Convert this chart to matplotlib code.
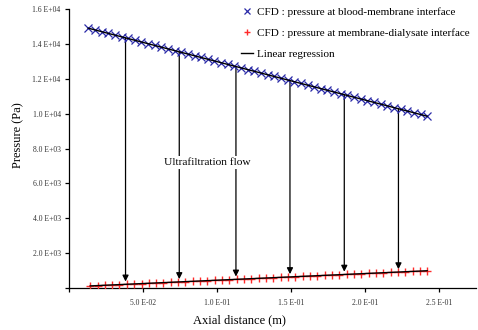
import matplotlib
matplotlib.use("Agg")
import matplotlib.pyplot as plt
import numpy as np

plt.rcParams['font.family'] = ['Liberation Serif', 'DejaVu Serif']

# CFD: pressure at blood-membrane interface
x_blood = [0.0130, 0.0175, 0.0220, 0.0265, 0.0310, 0.0355, 0.0399, 0.0444, 0.0489, 0.0534,
           0.0579, 0.0624, 0.0669, 0.0714, 0.0759, 0.0804, 0.0848, 0.0893, 0.0938, 0.0983,
           0.1028, 0.1073, 0.1118, 0.1163, 0.1208, 0.1253, 0.1297, 0.1342, 0.1387, 0.1432,
           0.1477, 0.1522, 0.1567, 0.1612, 0.1657, 0.1702, 0.1746, 0.1791, 0.1836, 0.1881,
           0.1926, 0.1971, 0.2016, 0.2061, 0.2106, 0.2151, 0.2195, 0.2240, 0.2285, 0.2330,
           0.2375, 0.2420]
p_blood = [14900, 14800, 14700, 14600, 14500, 14410, 14310, 14210, 14110, 14010,
           13910, 13810, 13710, 13610, 13510, 13420, 13320, 13220, 13120, 13020,
           12920, 12820, 12720, 12620, 12520, 12430, 12330, 12230, 12130, 12030,
           11930, 11830, 11730, 11630, 11530, 11440, 11340, 11240, 11140, 11040,
           10940, 10840, 10740, 10640, 10540, 10450, 10350, 10250, 10150, 10050,
           9950, 9850]

# CFD: pressure at membrane-dialysate interface
x_dial = [0.0143, 0.0193, 0.0242, 0.0292, 0.0341, 0.0391, 0.0440, 0.0490, 0.0539, 0.0589,
          0.0638, 0.0688, 0.0737, 0.0787, 0.0836, 0.0886, 0.0935, 0.0985, 0.1034, 0.1084,
          0.1133, 0.1183, 0.1232, 0.1282, 0.1331, 0.1381, 0.1430, 0.1480, 0.1529, 0.1579,
          0.1628, 0.1678, 0.1727, 0.1777, 0.1826, 0.1876, 0.1925, 0.1975, 0.2024, 0.2074,
          0.2123, 0.2173, 0.2222, 0.2272, 0.2321, 0.2371, 0.2420]
p_dial = [120, 139, 158, 177, 196, 215, 233, 252, 271, 290,
          309, 328, 347, 366, 385, 404, 422, 441, 460, 479,
          498, 517, 536, 555, 574, 593, 611, 630, 649, 668,
          687, 706, 725, 744, 763, 782, 800, 819, 838, 857,
          876, 895, 914, 933, 952, 971, 990]

# Ultrafiltration flow arrow positions
x_arrows = [0.0382, 0.0745, 0.1128, 0.1493, 0.1860, 0.2226]

yticks = [0, 2000, 4000, 6000, 8000, 10000, 12000, 14000, 16000]
ytick_labels = ['', '2.0 E+03', '4.0 E+03', '6.0 E+03', '8.0 E+03', '1.0 E+04',
                '1.2 E+04', '1.4 E+04', '1.6 E+04']
xticks = [0, 0.05, 0.10, 0.15, 0.20, 0.25]
xtick_labels = ['', '5.0 E-02', '1.0 E-01', '1.5 E-01', '2.0 E-01', '2.5 E-01']

W, H = 478, 330
fig = plt.figure(figsize=(W / 100, H / 100), dpi=100)
ax = fig.add_axes([69 / W, 1 - 288 / H, (476 - 69) / W, (288 - 9) / H])

xb = np.array(x_blood); pb = np.array(p_blood)
xd = np.array(x_dial); pd_ = np.array(p_dial)
cb = np.polyfit(xb, pb, 1)
cd = np.polyfit(xd, pd_, 1)

h1, = ax.plot(xb, pb, linestyle='none', marker='x', color='#2a2aa8', markersize=5.5,
              markeredgewidth=0.9, zorder=3,
              label='CFD : pressure at blood-membrane interface')
h2, = ax.plot(xd, pd_, linestyle='none', marker='+', color='#ff2a2a', markersize=6,
              markeredgewidth=1.0, zorder=3,
              label='CFD : pressure at membrane-dialysate interface')
h3, = ax.plot(xb, np.polyval(cb, xb), color='black', lw=1.0, zorder=4,
              label='Linear regression')
ax.plot(xd, np.polyval(cd, xd), color='black', lw=1.0, zorder=4)

for xa in x_arrows:
    ytop = np.polyval(cb, xa)
    ybot = np.polyval(cd, xa)
    ax.annotate('', xy=(xa, ybot), xytext=(xa, ytop),
                arrowprops=dict(arrowstyle='-|>', color='black', lw=0.9,
                                mutation_scale=9, shrinkA=0, shrinkB=2),
                zorder=2)

ax.text(0.0935, 7220, 'Ultrafiltration flow', fontsize=8.2, ha='center', va='center',
        bbox=dict(facecolor='white', edgecolor='none', pad=1.5), zorder=5)

ax.set_xlim(0, 0.275)
ax.set_ylim(0, 16000)
ax.set_yticks(yticks)
ax.set_yticklabels(ytick_labels)
ax.set_xticks(xticks)
ax.set_xticklabels(xtick_labels)
ax.tick_params(axis='both', labelsize=5.5, labelcolor='#333333', length=3, width=0.9,
               direction='out')
ax.tick_params(axis='x', pad=5)
ax.tick_params(axis='y', pad=3)
for s in ['top', 'right']:
    ax.spines[s].set_visible(False)
for s in ['left', 'bottom']:
    ax.spines[s].set_linewidth(0.9)

fig.text(18 / W, 1 - 135.5 / H, 'Pressure (Pa)', rotation=90, ha='center', va='center',
         fontsize=9)
fig.text(239 / W, 1 - 320 / H, 'Axial distance (m)', ha='center', va='center', fontsize=9)

fig.legend(handles=[h1, h2, h3], loc='upper left', bbox_to_anchor=(241 / W, 1 - 7 / H),
           frameon=False, fontsize=8, borderpad=0, borderaxespad=0, handlelength=1.05,
           handletextpad=0.4, labelspacing=1.0, numpoints=1, markerscale=0.75)

fig.savefig('out.png', dpi=100)
